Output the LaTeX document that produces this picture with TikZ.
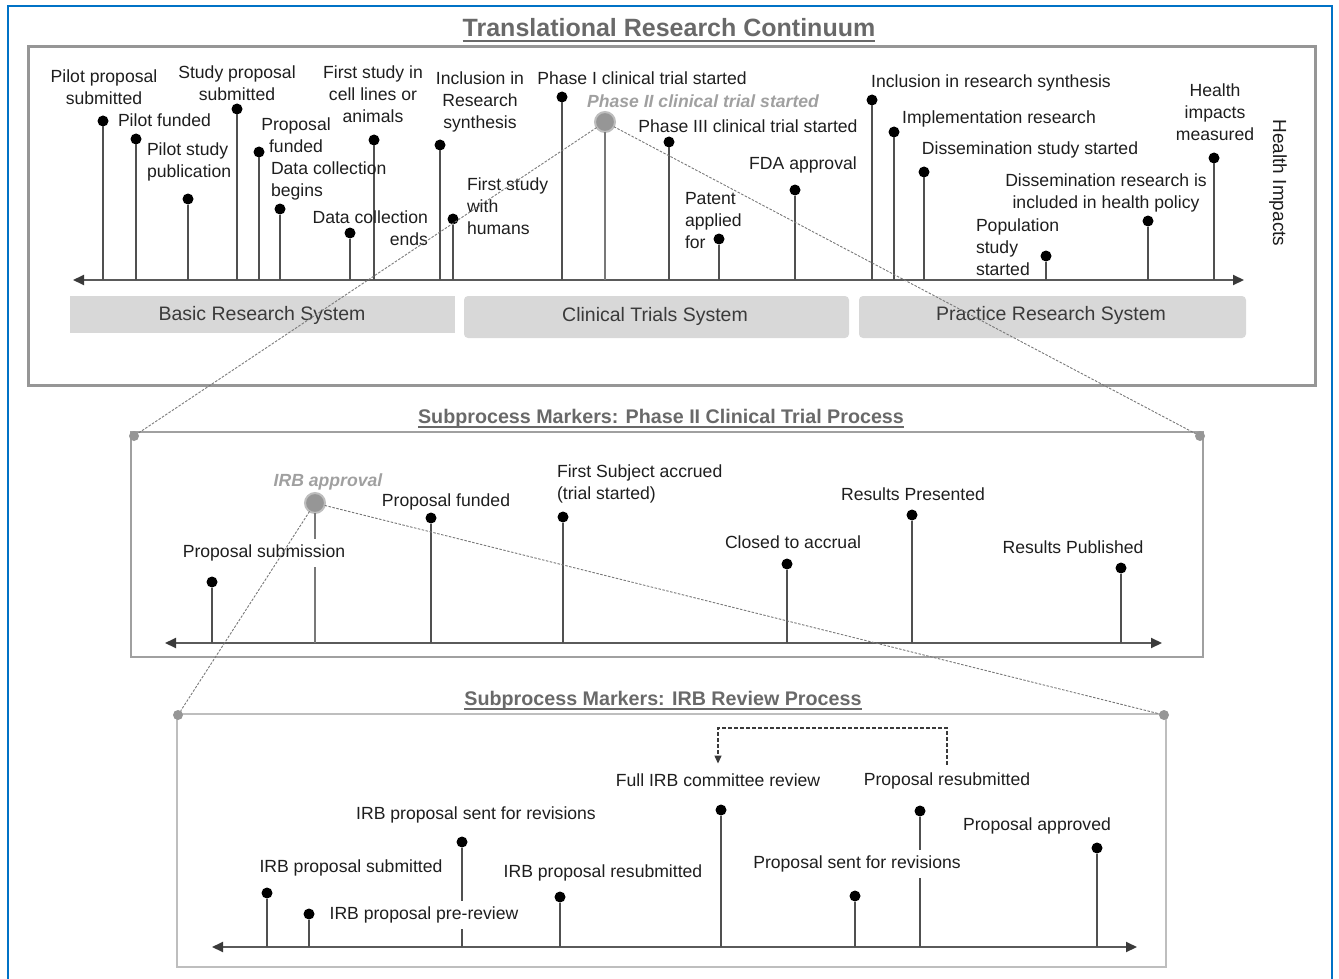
\documentclass[tikz,border=0pt]{standalone}
\usepackage{fontspec}
\setmainfont{Liberation Sans}
\usetikzlibrary{arrows.meta,calc}
\definecolor{c1e1e1e}{RGB}{30,30,30}
\definecolor{c3a3a3a}{RGB}{58,58,58}
\definecolor{c505050}{RGB}{80,80,80}
\definecolor{c5a5a5a}{RGB}{90,90,90}
\definecolor{c696969}{RGB}{105,105,105}
\definecolor{c787878}{RGB}{120,120,120}
\definecolor{c969696}{RGB}{150,150,150}
\definecolor{ca0a0a0}{RGB}{160,160,160}
\definecolor{cbebebe}{RGB}{190,190,190}
\definecolor{cd8d8d8}{RGB}{216,216,216}
\definecolor{c0072c6}{RGB}{0,114,198}

\begin{document}
\begin{tikzpicture}[y=1pt,x=1pt,yscale=-1, inner sep=0pt, outer sep=0pt,
  lbl/.style={text=c1e1e1e,font=\fontsize{17.6}{22}\selectfont},
  gaplbl/.style={lbl,fill=white,inner xsep=2pt,inner ysep=6pt},
  zoomlbl/.style={text=ca0a0a0,font=\fontsize{17.6}{22}\selectfont\bfseries\itshape},
  bandlbl/.style={text=c3a3a3a,font=\fontsize{19.5}{23}\selectfont},
  ttl/.style={text=c696969,anchor=base,font=\fontsize{19.7}{24}\selectfont\bfseries},
  pin/.style={circle,fill=black,minimum size=11pt},
  zoommark/.style={circle,fill=c969696,draw=cbebebe,line width=2pt,minimum size=20pt},
  cornerdot/.style={circle,fill=c969696,minimum size=10pt},
  stem/.style={draw=c505050,line width=1.7pt},
  markstem/.style={draw=c787878,line width=2pt},
  axisline/.style={draw=c5a5a5a,line width=2pt,
    {Triangle[length=11pt,width=10pt,color=c3a3a3a]}-{Triangle[length=11pt,width=10pt,color=c3a3a3a]}},
  zoomline/.style={draw=c787878,line width=0.9pt,dash pattern=on 2.5pt off 1.5pt}]
\useasboundingbox (0,0) rectangle (1339,979);

  \path[draw=c0072c6,line width=1.5pt] (8,979) -- (8,6) -- (1332,6) -- (1332,979);
  \path[draw=c969696,line width=3pt] (28,47) rectangle (1315,385);
  \path[draw=ca0a0a0,line width=2.5pt] (131,432) rectangle (1203,657);
  \path[draw=cbebebe,line width=1.6pt] (177,714) rectangle (1166,967);

  \path (669,37) node[ttl,font=\fontsize{25}{30}\selectfont\bfseries] (ttlMain)
    {Translational Research Continuum};
  \path (661,423) node[ttl] (ttlPhase) {Subprocess Markers: Phase II Clinical Trial Process};
  \path (663,705) node[ttl] (ttlIRB) {Subprocess Markers: IRB Review Process};
  \path[draw=c696969,line width=1.8pt] ($(ttlMain.base west)+(0,4)$) -- ($(ttlMain.base east)+(0,4)$);
  \path[draw=c696969,line width=1.5pt] ($(ttlPhase.base west)+(0,4)$) -- ($(ttlPhase.base east)+(0,4)$);
  \path[draw=c696969,line width=1.5pt] ($(ttlIRB.base west)+(0,4)$) -- ($(ttlIRB.base east)+(0,4)$);

  \path[fill=cd8d8d8] (70,296) rectangle (455,333);
  \path[fill=cd8d8d8,rounded corners=4pt] (464,296) rectangle (849,338);
  \path[fill=cd8d8d8,rounded corners=4pt] (859,296) rectangle (1246,338);
  \path (262,315) node[bandlbl] (bandBasic) {Basic Research System};
  \path (655,316) node[bandlbl] (bandClin) {Clinical Trials System};
  \path (1051,315) node[bandlbl] (bandPract) {Practice Research System};

  \coordinate (tL) at (73,280);
  \coordinate (tR) at (1244,280);
  \coordinate (mL) at (165,643);
  \coordinate (mR) at (1162,643);
  \coordinate (bL) at (212,947);
  \coordinate (bR) at (1137,947);
  \path[axisline] (tL) -- (tR);
  \path[axisline] (mL) -- (mR);
  \path[axisline] (bL) -- (bR);

  \path (103,121) node[pin] (p1) {};
  \path (136,139) node[pin] (p2) {};
  \path (188,199) node[pin] (p3) {};
  \path (237,109) node[pin] (p4) {};
  \path (259,152) node[pin] (p5) {};
  \path (280,209) node[pin] (p6) {};
  \path (374,140) node[pin] (p7) {};
  \path (350,233) node[pin] (p8) {};
  \path (440,145) node[pin] (p9) {};
  \path (453,219) node[pin] (p10) {};
  \path (562,97) node[pin] (p11) {};
  \path (669,142) node[pin] (p12) {};
  \path (719,239) node[pin] (p13) {};
  \path (795,190) node[pin] (p14) {};
  \path (872,100) node[pin] (p15) {};
  \path (894,132) node[pin] (p16) {};
  \path (924,172) node[pin] (p17) {};
  \path (1046,256) node[pin] (p18) {};
  \path (1148,221) node[pin] (p19) {};
  \path (1214,158) node[pin] (p20) {};
  \path (605,122) node[zoommark] (mk1) {};
  \path[stem] (p1) -- (p1 |- tL);
  \path[stem] (p2) -- (p2 |- tL);
  \path[stem] (p3) -- (p3 |- tL);
  \path[stem] (p4) -- (p4 |- tL);
  \path[stem] (p5) -- (p5 |- tL);
  \path[stem] (p6) -- (p6 |- tL);
  \path[stem] (p7) -- (p7 |- tL);
  \path[stem] (p8) -- (p8 |- tL);
  \path[stem] (p9) -- (p9 |- tL);
  \path[stem] (p10) -- (p10 |- tL);
  \path[stem] (p11) -- (p11 |- tL);
  \path[stem] (p12) -- (p12 |- tL);
  \path[stem] (p13) -- (p13 |- tL);
  \path[stem] (p14) -- (p14 |- tL);
  \path[stem] (p15) -- (p15 |- tL);
  \path[stem] (p16) -- (p16 |- tL);
  \path[stem] (p17) -- (p17 |- tL);
  \path[stem] (p18) -- (p18 |- tL);
  \path[stem] (p19) -- (p19 |- tL);
  \path[stem] (p20) -- (p20 |- tL);
  \path[markstem] (mk1) -- (mk1 |- tL);

  \path (212,582) node[pin] (pm1) {};
  \path (431,518) node[pin] (pm2) {};
  \path (563,517) node[pin] (pm3) {};
  \path (787,564) node[pin] (pm4) {};
  \path (912,515) node[pin] (pm5) {};
  \path (1121,568) node[pin] (pm6) {};
  \path (315,503) node[zoommark] (mk2) {};
  \path[stem] (pm1) -- (pm1 |- mL);
  \path[stem] (pm2) -- (pm2 |- mL);
  \path[stem] (pm3) -- (pm3 |- mL);
  \path[stem] (pm4) -- (pm4 |- mL);
  \path[stem] (pm5) -- (pm5 |- mL);
  \path[stem] (pm6) -- (pm6 |- mL);
  \path[markstem] (mk2) -- (mk2 |- mL);

  \path (267,893) node[pin] (pb1) {};
  \path (309,914) node[pin] (pb2) {};
  \path (462,842) node[pin] (pb3) {};
  \path (560,897) node[pin] (pb4) {};
  \path (721,810) node[pin] (pb5) {};
  \path (855,896) node[pin] (pb6) {};
  \path (920,811) node[pin] (pb7) {};
  \path (1097,848) node[pin] (pb8) {};
  \path[stem] (pb1) -- (pb1 |- bL);
  \path[stem] (pb2) -- (pb2 |- bL);
  \path[stem] (pb3) -- (pb3 |- bL);
  \path[stem] (pb4) -- (pb4 |- bL);
  \path[stem] (pb5) -- (pb5 |- bL);
  \path[stem] (pb6) -- (pb6 |- bL);
  \path[stem] (pb7) -- (pb7 |- bL);
  \path[stem] (pb8) -- (pb8 |- bL);

  \path (104,87) node[lbl,align=center] (l1) {Pilot proposal\\submitted};
  \path (118,120) node[lbl,anchor=west] (l2) {Pilot funded};
  \path (147,162) node[lbl,anchor=west,align=left] (l3) {Pilot study\\publication};
  \path (237,83) node[lbl,align=center] (l4) {Study proposal\\submitted};
  \path (296,135) node[lbl,align=center] (l5) {Proposal\\funded};
  \path (271,181) node[lbl,anchor=west,align=left] (l6) {Data collection\\begins};
  \path (373,94) node[lbl,align=center] (l7) {First study in\\cell lines or\\animals};
  \path (428,228) node[lbl,anchor=east,align=right] (l8) {Data collection\\ends};
  \path (480,102) node[lbl,align=center] (l9) {Inclusion in\\Research\\synthesis};
  \path (467,206) node[lbl,anchor=west,align=left] (l10) {First study\\with\\humans};
  \path (642,78) node[lbl] (l11) {Phase I clinical trial started};
  \path (703,101) node[zoomlbl] (lz1) {Phase II clinical trial started};
  \path (748,126) node[lbl] (l12) {Phase III clinical trial started};
  \path (685,221) node[lbl,anchor=west,align=left] (l13) {Patent\\applied\\for};
  \path (803,165) node[lbl] (l14) {FDA approval};
  \path (991,83) node[lbl] (l15) {Inclusion in research synthesis};
  \path (999,119) node[lbl] (l16) {Implementation research};
  \path (1030,150) node[lbl] (l17) {Dissemination study started};
  \path (1106,193) node[lbl,align=center] (l18) {Dissemination research is\\included in health policy};
  \path (976,247) node[lbl,anchor=west,align=left] (l19) {Population\\study\\started};
  \path (1215,112) node[lbl,align=center] (l20) {Health\\impacts\\measured};
  \path (1278,183) node[lbl,rotate=-90,font=\fontsize{19}{22}\selectfont] (lHealth) {Health Impacts};

  \path (264,553) node[gaplbl] (m1) {Proposal submission};
  \path (328,482) node[zoomlbl] (lz2) {IRB approval};
  \path (446,502) node[lbl] (m2) {Proposal funded};
  \path (557,484) node[lbl,anchor=west,align=left] (m3) {First Subject accrued\\(trial started)};
  \path (793,542) node[lbl] (m4) {Closed to accrual};
  \path (913,494) node[lbl] (m5) {Results Presented};
  \path (1073,547) node[lbl] (m6) {Results Published};

  \path (351,868) node[lbl] (b1) {IRB proposal submitted};
  \path (424,915) node[gaplbl] (b2) {IRB proposal pre-review};
  \path (476,815) node[lbl] (b3) {IRB proposal sent for revisions};
  \path (603,873) node[lbl] (b4) {IRB proposal resubmitted};
  \path (718,780) node[lbl] (b5) {Full IRB committee review};
  \path (857,864) node[gaplbl] (b6) {Proposal sent for revisions};
  \path (947,781) node[lbl] (b7) {Proposal resubmitted};
  \path (1037,826) node[lbl] (b8) {Proposal approved};

  \coordinate (loopTop) at (830,728);
  \path[draw=c3a3a3a,line width=1.3pt,dash pattern=on 4pt off 2pt,shorten <=8pt,shorten >=10pt,
    -{Triangle[length=8pt,width=7pt]}] (b7.north) |- (loopTop) -| (b5.north);

  \path (134,436) node[cornerdot] (cM1) {};
  \path (1200,436) node[cornerdot] (cM2) {};
  \path (178,715) node[cornerdot] (cB1) {};
  \path (1164,715) node[cornerdot] (cB2) {};
  \path[zoomline] (mk1) -- (cM1);
  \path[zoomline] (mk1) -- (cM2);
  \path[zoomline] (mk2) -- (cB1);
  \path[zoomline] (mk2) -- (cB2);
\end{tikzpicture}
\end{document}
